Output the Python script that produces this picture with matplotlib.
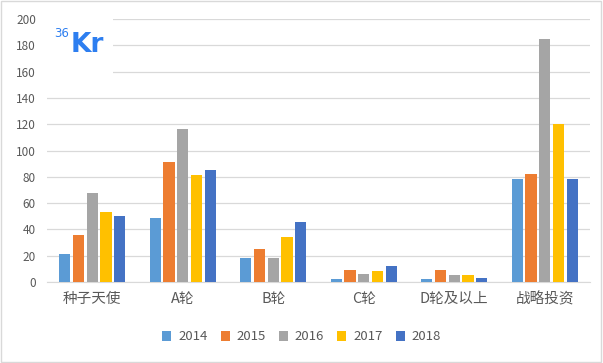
import numpy as np
import matplotlib
matplotlib.use("Agg")
import matplotlib.pyplot as plt

plt.rcParams['font.family'] = ['Noto Sans CJK SC', 'DejaVu Sans']

categories = ["种子天使", "A轮", "B轮", "C轮", "D轮及以上", "战略投资"]
years = ["2014", "2015", "2016", "2017", "2018"]
colors = ["#5b9bd5", "#ed7d31", "#a5a5a5", "#ffc000", "#4472c4"]

v2014 = [21, 49, 18, 2, 2, 78]
v2015 = [36, 91, 25, 9, 9, 82]
v2016 = [68, 116, 18, 6, 5, 185]
v2017 = [53, 81, 34, 8, 5, 120]
v2018 = [50, 85, 46, 12, 3, 78]
series = [v2014, v2015, v2016, v2017, v2018]

fig = plt.figure(figsize=(6.03, 3.63), dpi=100)
ax = fig.add_axes([47 / 603, 1 - 282 / 363, 543 / 603, 263 / 363])

x = np.arange(len(categories))
step = 0.152
width = 0.122
for i, (vals, c, yr) in enumerate(zip(series, colors, years)):
    ax.bar(x + (i - 2) * step, vals, width, color=c, label=yr, zorder=3)

ax.set_ylim(0, 200)
ax.set_yticks(range(0, 201, 20))
ax.set_xlim(-0.5, len(categories) - 0.5)
ax.set_xticks(x)
ax.set_xticklabels(categories, fontsize=10.5, color="#595959")
ax.tick_params(axis="y", labelsize=8.5, labelcolor="#595959", length=0, pad=8)
ax.tick_params(axis="x", length=0, pad=7)
ax.grid(axis="y", color="#d9d9d9", linewidth=0.9, zorder=0)
for s in ["top", "right", "left"]:
    ax.spines[s].set_visible(False)
ax.spines["bottom"].set_color("#d9d9d9")

leg = fig.legend(loc="center", bbox_to_anchor=(0.5, 1 - 337 / 363), ncol=5,
                 frameon=False, fontsize=9.5, handlelength=0.7, handleheight=0.7,
                 columnspacing=1.0, handletextpad=0.5)
for t in leg.get_texts():
    t.set_color("#595959")

# 36Kr logo on a white patch that hides the grid behind it
fig.patches.append(plt.Rectangle((47 / 603, 1 - 76 / 363), 66 / 603, 62 / 363,
                                 transform=fig.transFigure, facecolor="white",
                                 edgecolor="none", zorder=5))
fig.text(54 / 603, 1 - 37 / 363, "36", fontsize=8.5, color="#2d7ef0",
         va="baseline", ha="left", family="DejaVu Sans", zorder=6)
fig.text(71 / 603, 1 - 52 / 363, "Kr", fontsize=19, color="#2d7ef0",
         fontweight="bold", va="baseline", ha="left",
         family="DejaVu Sans", zorder=6)

# outer border
fig.patches.append(plt.Rectangle((0.002, 0.003), 0.995, 0.993, transform=fig.transFigure,
                                 fill=False, edgecolor="#d9d9d9", linewidth=1))

fig.savefig("out.png", dpi=100)
